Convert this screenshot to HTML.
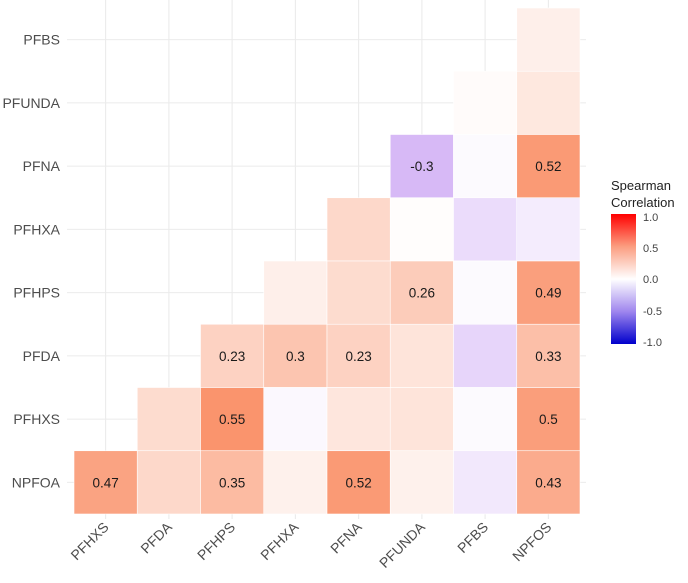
<!DOCTYPE html>
<html><head><meta charset="utf-8"><style>
body{margin:0;background:#fff;}
svg text{font-family:"Liberation Sans",Arial,sans-serif;}
</style></head><body>
<svg id="chart" width="688" height="578" xmlns="http://www.w3.org/2000/svg">
<defs><linearGradient id="lg" x1="0" y1="0" x2="0" y2="1">
<stop offset="0" stop-color="#ff0000"/><stop offset="0.25" stop-color="#fb9d80"/><stop offset="0.5" stop-color="#ffffff"/><stop offset="0.75" stop-color="#9f86ee"/><stop offset="1" stop-color="#0000cc"/></linearGradient></defs>
<g id="grid"></g><g id="cells"></g><g id="labels"></g><g id="axes"></g>
<g>
<text x="611" y="190" font-size="13" fill="#222">Spearman</text>
<text x="611" y="207" font-size="13" fill="#222">Correlation</text>
<rect x="611" y="214" width="25" height="130" fill="url(#lg)"/>
<g font-size="11" fill="#444">
<text x="643" y="221">1.0</text><text x="643" y="252">0.5</text><text x="643" y="283">0.0</text><text x="643" y="315">-0.5</text><text x="643" y="346">-1.0</text>
</g></g>
</svg>
<script>
const xCats = ["PFHXS","PFDA","PFHPS","PFHXA","PFNA","PFUNDA","PFBS","NPFOS"];
const yCats = ["PFBS","PFUNDA","PFNA","PFHXA","PFHPS","PFDA","PFHXS","NPFOA"];
// values[row][col], null = empty
const values = [
 [null,null,null,null,null,null,null,0.08],
 [null,null,null,null,null,null,0.02,0.12],
 [null,null,null,null,null,-0.3,-0.02,0.52],
 [null,null,null,null,0.2,0.01,-0.15,-0.08],
 [null,null,null,0.08,0.18,0.26,-0.02,0.49],
 [null,null,0.23,0.3,0.23,0.14,-0.18,0.33],
 [null,0.18,0.55,-0.03,0.13,0.14,-0.02,0.5],
 [0.47,0.2,0.35,0.07,0.52,0.07,-0.1,0.43]
];
const shownLabels = [
 [null,null,null,null,null,null,null,null],
 [null,null,null,null,null,null,null,null],
 [null,null,null,null,null,"-0.3",null,"0.52"],
 [null,null,null,null,null,null,null,null],
 [null,null,null,null,null,"0.26",null,"0.49"],
 [null,null,"0.23","0.3","0.23",null,null,"0.33"],
 [null,null,"0.55",null,null,null,null,"0.5"],
 ["0.47",null,"0.35",null,"0.52",null,null,"0.43"]
];
const NS="http://www.w3.org/2000/svg";
const x0=74, cw=63.25, y0=8, ch=63.25;
const xPos=i=>x0+i*cw, yPos=j=>y0+j*ch;
function color(v){
 const c=x=>Math.max(0,Math.min(255,Math.round(x)));
 if(v>=0) return `rgb(${c(255-10*v)},${c(255-195*v)},${c(255-265*v)})`;
 const a=-v; return `rgb(${c(255-135*a)},${c(255-233*a)},${c(255-30*a)})`;
}
const grid=document.getElementById('grid'), cells=document.getElementById('cells'), labels=document.getElementById('labels'), axes=document.getElementById('axes');
function mk(tag,attrs,parent){const e=document.createElementNS(NS,tag);for(const k in attrs)e.setAttribute(k,attrs[k]);parent.appendChild(e);return e;}
xCats.forEach((n,i)=>{
 const gl=mk('line',{x1:xPos(i)+cw/2,x2:xPos(i)+cw/2,y1:0,y2:519,stroke:'#ebebeb','stroke-width':1.1},grid);
 
 
 const cx=xPos(i)+cw/2+4, cy=528;
 const t=mk('text',{x:cx,y:cy,'font-size':14,fill:'#4d4d4d','text-anchor':'end',transform:`rotate(-45 ${cx} ${cy})`},axes);
 t.textContent=n;
 
 
});
yCats.forEach((n,j)=>{
 const gl=mk('line',{x1:67,x2:586,y1:yPos(j)+ch/2,y2:yPos(j)+ch/2,stroke:'#ebebeb','stroke-width':1.1},grid);
 
 
 const t=mk('text',{x:60,y:yPos(j)+ch/2+5,'font-size':14,fill:'#4d4d4d','text-anchor':'end'},axes);
 t.textContent=n;
 
 
});
values.forEach((row,j)=>row.forEach((v,i)=>{
 if(v===null)return;
 const r=mk('rect',{x:xPos(i),y:yPos(j),width:cw,height:ch,fill:color(v),stroke:'#fff','stroke-width':0.6},cells);
 
 
 const s=shownLabels[j][i];
 if(s){const t=mk('text',{x:xPos(i)+cw/2,y:yPos(j)+ch/2+5,'font-size':13.5,fill:'#1a1a1a','text-anchor':'middle'},labels);
 t.textContent=s;
 
 }
}));
</script>
</body></html>
